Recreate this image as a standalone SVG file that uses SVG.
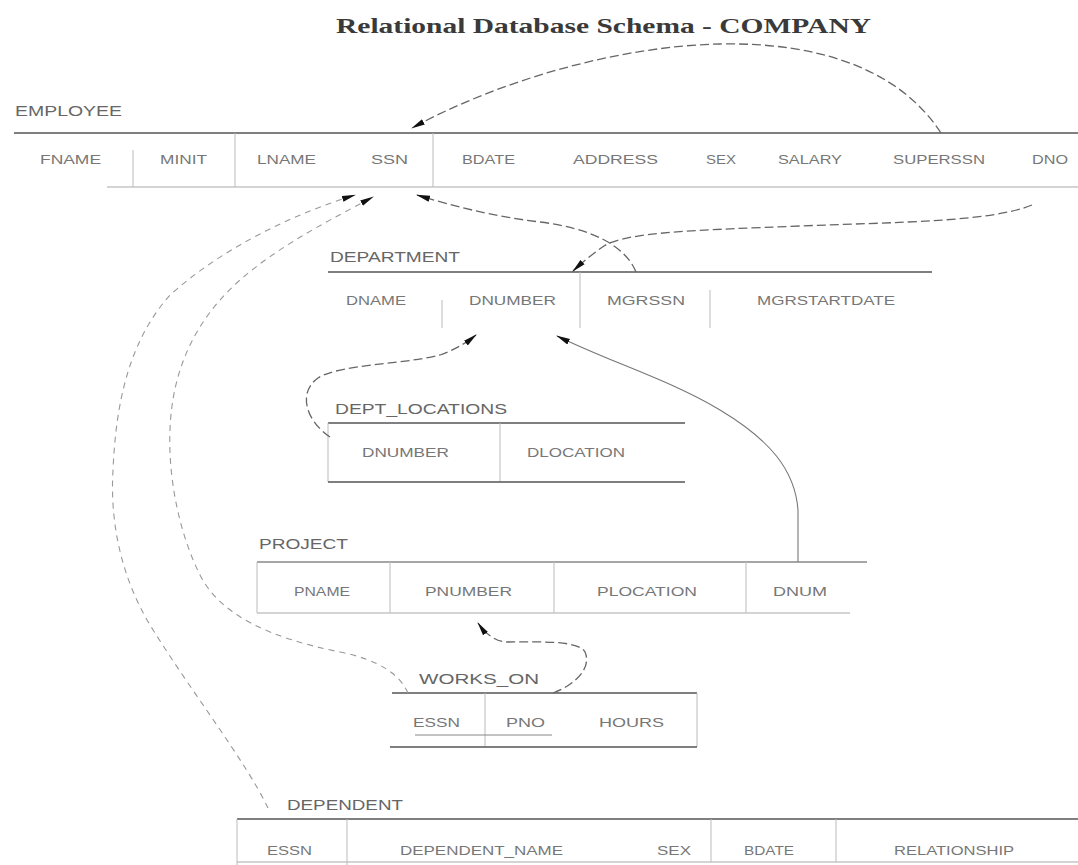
<svg xmlns="http://www.w3.org/2000/svg" width="1078" height="865" viewBox="0 0 1078 865">
<style>
.t{font-family:"Liberation Serif","Times New Roman",serif;font-weight:bold;font-size:22px;fill:#3a3a3a}
.n{font-family:"Liberation Sans",Arial,sans-serif;font-size:14px;fill:#666}
.c{font-family:"Liberation Sans",Arial,sans-serif;font-size:13px;fill:#777}
.top{stroke:#555;stroke-width:1.6;fill:none}
.bot{stroke:#aaa;stroke-width:1.2;fill:none}
.div{stroke:#bbb;stroke-width:1;fill:none}
.fk{stroke:#666;stroke-width:1.3;fill:none;stroke-dasharray:9 4}
.fk2{stroke:#999;stroke-width:1.1;fill:none;stroke-dasharray:6 5}
</style>
<defs>
<marker id="ah" viewBox="0 0 14 8" refX="13" refY="4" markerWidth="14" markerHeight="8" markerUnits="userSpaceOnUse" orient="auto">
<path d="M0,1 L14,4 L0,7 z" fill="#111"/>
</marker>
</defs>
<rect width="1078" height="865" fill="#fff"/>
<text class="t" x="336" y="33" textLength="535" lengthAdjust="spacingAndGlyphs">Relational Database Schema - COMPANY</text>

<g id="employee">
<text class="n" x="15" y="116" textLength="107" lengthAdjust="spacingAndGlyphs">EMPLOYEE</text>
<line class="top" x1="14" y1="133" x2="1078" y2="133"/>
<line class="bot" x1="107" y1="187" x2="1078" y2="187"/>
<line class="div" x1="133" y1="150" x2="133" y2="187"/>
<line class="div" x1="235" y1="133" x2="235" y2="187"/>
<line class="div" x1="433" y1="133" x2="433" y2="187"/>
<text class="c" x="40" y="164" textLength="61" lengthAdjust="spacingAndGlyphs">FNAME</text>
<text class="c" x="160" y="164" textLength="47" lengthAdjust="spacingAndGlyphs">MINIT</text>
<text class="c" x="257" y="164" textLength="59" lengthAdjust="spacingAndGlyphs">LNAME</text>
<text class="c" x="371" y="164" textLength="37" lengthAdjust="spacingAndGlyphs">SSN</text>
<text class="c" x="462" y="164" textLength="53" lengthAdjust="spacingAndGlyphs">BDATE</text>
<text class="c" x="573" y="164" textLength="85" lengthAdjust="spacingAndGlyphs">ADDRESS</text>
<text class="c" x="706" y="164" textLength="30" lengthAdjust="spacingAndGlyphs">SEX</text>
<text class="c" x="778" y="164" textLength="64" lengthAdjust="spacingAndGlyphs">SALARY</text>
<text class="c" x="893" y="164" textLength="92" lengthAdjust="spacingAndGlyphs">SUPERSSN</text>
<text class="c" x="1032" y="164" textLength="36" lengthAdjust="spacingAndGlyphs">DNO</text>
</g>

<g id="department">
<text class="n" x="330" y="262" textLength="130" lengthAdjust="spacingAndGlyphs">DEPARTMENT</text>
<line class="top" x1="328" y1="272" x2="932" y2="272"/>
<line class="div" x1="442" y1="300" x2="442" y2="328"/>
<line class="div" x1="580" y1="272" x2="580" y2="328"/>
<line class="div" x1="710" y1="290" x2="710" y2="328"/>
<text class="c" x="346" y="305" textLength="60" lengthAdjust="spacingAndGlyphs">DNAME</text>
<text class="c" x="469" y="305" textLength="87" lengthAdjust="spacingAndGlyphs">DNUMBER</text>
<text class="c" x="607" y="305" textLength="78" lengthAdjust="spacingAndGlyphs">MGRSSN</text>
<text class="c" x="757" y="305" textLength="138" lengthAdjust="spacingAndGlyphs">MGRSTARTDATE</text>
</g>

<g id="dept_locations">
<text class="n" x="335" y="414" textLength="172" lengthAdjust="spacingAndGlyphs">DEPT_LOCATIONS</text>
<line class="top" x1="328" y1="423" x2="685" y2="423"/>
<line class="div" x1="328" y1="423" x2="328" y2="482"/>
<line class="div" x1="500" y1="423" x2="500" y2="482"/>
<line class="top" x1="328" y1="482" x2="685" y2="482"/>
<text class="c" x="362" y="457" textLength="87" lengthAdjust="spacingAndGlyphs">DNUMBER</text>
<text class="c" x="527" y="457" textLength="98" lengthAdjust="spacingAndGlyphs">DLOCATION</text>
</g>

<g id="project">
<text class="n" x="259" y="549" textLength="89" lengthAdjust="spacingAndGlyphs">PROJECT</text>
<line class="top" x1="257" y1="562" x2="867" y2="562" style="stroke:#888"/>
<line class="bot" x1="257" y1="613" x2="850" y2="613"/>
<line class="div" x1="257" y1="562" x2="257" y2="613"/>
<line class="div" x1="390" y1="562" x2="390" y2="613"/>
<line class="div" x1="554" y1="562" x2="554" y2="613"/>
<line class="div" x1="746" y1="562" x2="746" y2="613"/>
<text class="c" x="294" y="596" textLength="56" lengthAdjust="spacingAndGlyphs">PNAME</text>
<text class="c" x="425" y="596" textLength="87" lengthAdjust="spacingAndGlyphs">PNUMBER</text>
<text class="c" x="597" y="596" textLength="100" lengthAdjust="spacingAndGlyphs">PLOCATION</text>
<text class="c" x="773" y="596" textLength="54" lengthAdjust="spacingAndGlyphs">DNUM</text>
</g>

<g id="works_on">
<text class="n" x="419" y="684" textLength="120" lengthAdjust="spacingAndGlyphs">WORKS_ON</text>
<line class="top" x1="392" y1="693" x2="697" y2="693"/>
<line class="div" x1="485" y1="693" x2="485" y2="747"/>
<line class="div" x1="697" y1="693" x2="697" y2="747"/>
<line class="top" x1="390" y1="747" x2="697" y2="747"/>
<line x1="415" y1="735" x2="552" y2="735" stroke="#888" stroke-width="1"/>
<text class="c" x="413" y="727" textLength="47" lengthAdjust="spacingAndGlyphs">ESSN</text>
<text class="c" x="506" y="727" textLength="39" lengthAdjust="spacingAndGlyphs">PNO</text>
<text class="c" x="599" y="727" textLength="65" lengthAdjust="spacingAndGlyphs">HOURS</text>
</g>

<g id="dependent">
<text class="n" x="287" y="810" textLength="116" lengthAdjust="spacingAndGlyphs">DEPENDENT</text>
<line class="top" x1="237" y1="819" x2="1078" y2="819"/>
<line class="bot" x1="237" y1="862" x2="1078" y2="862"/>
<line class="div" x1="237" y1="819" x2="237" y2="865"/>
<line class="div" x1="347" y1="819" x2="347" y2="865"/>
<line class="div" x1="711" y1="819" x2="711" y2="862"/>
<line class="div" x1="836" y1="819" x2="836" y2="862"/>
<text class="c" x="267" y="855" textLength="45" lengthAdjust="spacingAndGlyphs">ESSN</text>
<text class="c" x="400" y="855" textLength="163" lengthAdjust="spacingAndGlyphs">DEPENDENT_NAME</text>
<text class="c" x="657" y="855" textLength="34" lengthAdjust="spacingAndGlyphs">SEX</text>
<text class="c" x="744" y="855" textLength="50" lengthAdjust="spacingAndGlyphs">BDATE</text>
<text class="c" x="894" y="855" textLength="120" lengthAdjust="spacingAndGlyphs">RELATIONSHIP</text>
</g>

<g id="connectors">
<path class="fk" d="M941,133 C900,70 820,42 720,44 C620,46 500,80 412,128" marker-end="url(#ah)"/>
<path class="fk" d="M1032,205 C990,222 900,222 800,226 C700,230 625,232 604,246 Q588,257 573,271" marker-end="url(#ah)"/>
<path class="fk" d="M636,272 C625,245 590,228 540,222 C490,216 450,205 417,195" marker-end="url(#ah)"/>
<path class="fk" d="M330,437 C305,420 298,392 318,378 C340,364 400,365 440,355 Q460,348 476,335" marker-end="url(#ah)"/>
<path class="fk" d="M798,562 L798,510 C795,470 770,440 720,410 C670,380 610,362 557,336" marker-end="url(#ah)" style="stroke-dasharray:none;stroke:#777;stroke-width:1.1"/>
<path class="fk" d="M553,693 C575,685 592,668 585,652 C578,640 540,642 505,642 Q490,640 478,623" marker-end="url(#ah)"/>
<path class="fk2" d="M408,693 C400,675 380,660 340,652 C270,638 220,615 200,575 C180,535 168,480 170,430 C172,370 195,320 240,280 C280,245 330,220 373,197" marker-end="url(#ah)"/>
<path class="fk2" d="M268,808 C245,760 190,690 150,625 C120,575 110,520 113,470 C116,400 130,340 170,295 C220,250 290,215 355,195" marker-end="url(#ah)"/>
</g>
</svg>
